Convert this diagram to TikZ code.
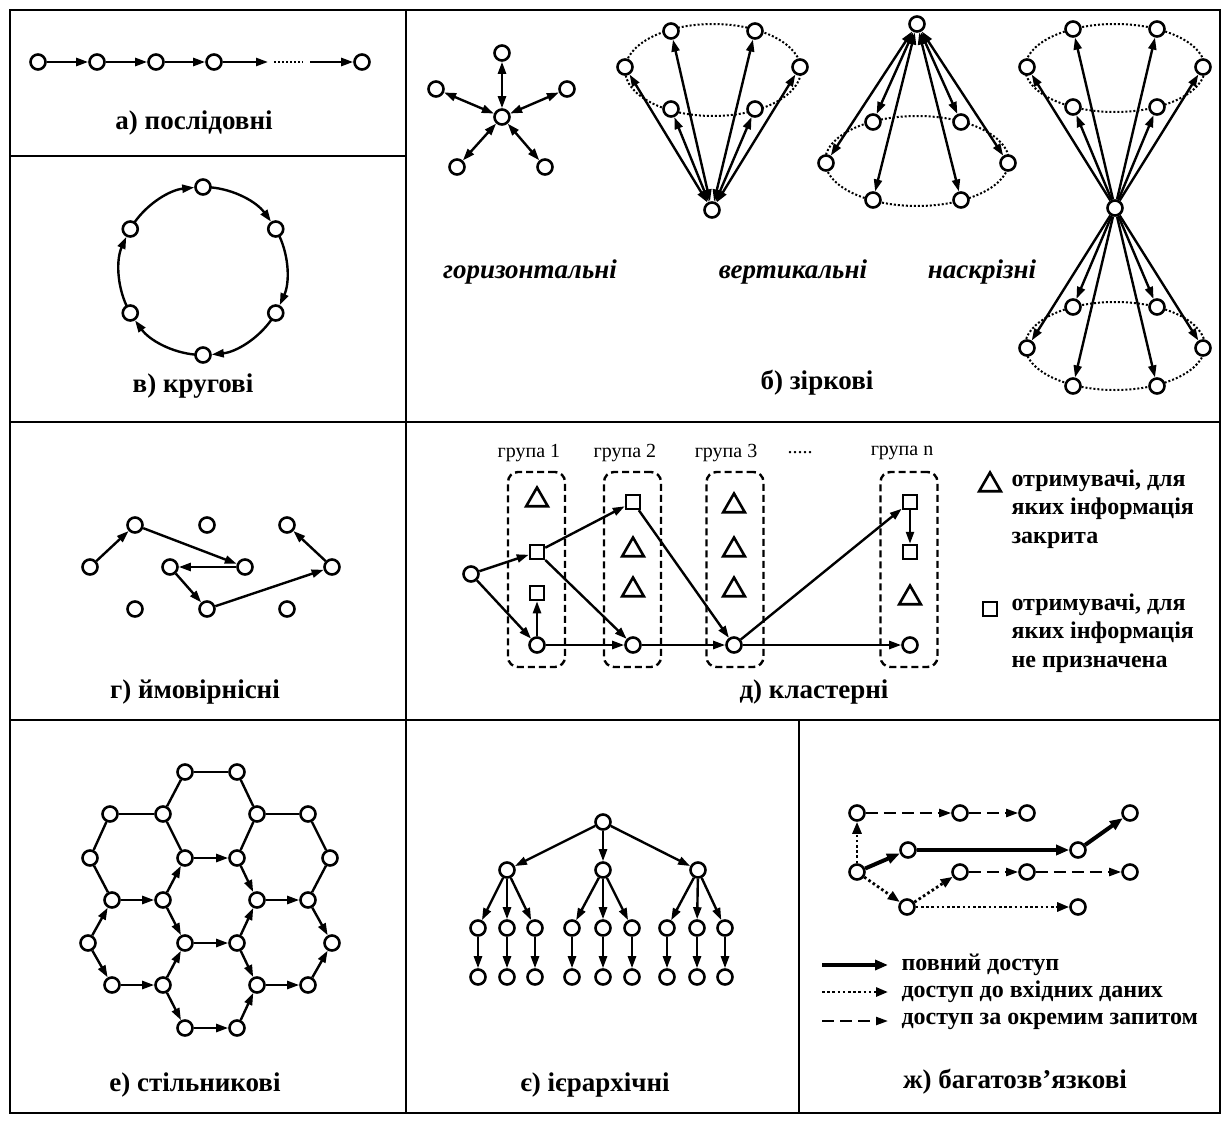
\documentclass[tikz,border=0pt]{standalone}
\usepackage{fontspec}
\setmainfont{Liberation Serif}
\usetikzlibrary{arrows.meta,shapes.geometric}
\begin{document}
\begin{tikzpicture}[x=1pt,y=-1pt,
 >={Triangle[length=12pt,width=8pt]},
 nd/.style={circle,draw,line width=2.6pt,fill=white,minimum size=15pt,inner sep=0pt},
 sq/.style={rectangle,draw,line width=2.5pt,fill=white,minimum size=14pt,inner sep=0pt},
 tri/.style={regular polygon,regular polygon sides=3,draw,line width=2.6pt,minimum size=25pt,inner sep=0pt},
 grp/.style={draw,rounded corners=10pt,line width=2.4pt,dash pattern=on 7pt off 4pt,minimum width=57pt,minimum height=195pt,inner sep=0pt},
 ln/.style={line width=2.4pt},
 ar/.style={ln,->},
 dar/.style={ln,<->},
 frm/.style={line width=2.8pt},
 dot/.style={line width=2pt,dash pattern=on 2pt off 2pt},
 lbl/.style={font=\fontsize{27}{30}\selectfont\bfseries},
 ilbl/.style={font=\fontsize{27}{30}\selectfont\bfseries\itshape},
 glbl/.style={font=\fontsize{20}{22}\selectfont},
 leg/.style={font=\fontsize{24}{28.5}\selectfont\bfseries,align=left},
 full/.style={line width=4pt,-{Triangle[length=13pt,width=10pt]}},
 inp/.style={line width=2.8pt,dash pattern=on 2.6pt off 2.6pt,-{Triangle[length=12pt,width=9pt]}},
 req/.style={line width=2.2pt,dash pattern=on 12pt off 6pt,-{Triangle[length=12pt,width=8pt]}},
 ]
\useasboundingbox (0,0) rectangle (1223,1124);
% frame
\draw[frm] (10,10) rectangle (1220,1113);
\draw[frm] (10,156) -- (406,156);
\draw[frm] (406,10) -- (406,720);
\draw[frm] (10,422) -- (1220,422);
\draw[frm] (10,720) -- (1220,720);
\draw[frm] (406,720) -- (406,1113);
\draw[frm] (799,720) -- (799,1113);

% ---- a) sequential
\node[nd] (a1) at (38,62) {};
\node[nd] (a2) at (97,62) {};
\node[nd] (a3) at (156,62) {};
\node[nd] (a4) at (214,62) {};
\node[nd] (a5) at (362,62) {};
\coordinate (a4e) at (268,62);
\coordinate (dotA) at (274,62);
\coordinate (dotB) at (303,62);
\coordinate (a5s) at (310,62);
\draw[ar] (a1) -- (a2);
\draw[ar] (a2) -- (a3);
\draw[ar] (a3) -- (a4);
\draw[ar] (a4) -- (a4e);
\draw[dot] (dotA) -- (dotB);
\draw[ar] (a5s) -- (a5);
\node[lbl] (la) at (194,123) {а) послідовні};

% ---- в) ring
\coordinate (cc) at (203,271);
\draw[ar] ([shift={(-85:84)}]cc) arc[start angle=-85,end angle=-36,radius=84];
\draw[ar] ([shift={(-25:84)}]cc) arc[start angle=-25,end angle=24,radius=84];
\draw[ar] ([shift={(35:84)}]cc) arc[start angle=35,end angle=84,radius=84];
\draw[ar] ([shift={(95:84)}]cc) arc[start angle=95,end angle=144,radius=84];
\draw[ar] ([shift={(155:84)}]cc) arc[start angle=155,end angle=204,radius=84];
\draw[ar] ([shift={(215:84)}]cc) arc[start angle=215,end angle=264,radius=84];
\node[nd] (c1) at ([shift={(-90:84)}]cc) {};
\node[nd] (c2) at ([shift={(-30:84)}]cc) {};
\node[nd] (c3) at ([shift={(30:84)}]cc) {};
\node[nd] (c4) at ([shift={(90:84)}]cc) {};
\node[nd] (c5) at ([shift={(150:84)}]cc) {};
\node[nd] (c6) at ([shift={(210:84)}]cc) {};
\node[lbl] (lv) at (193,386) {в) кругові};

% ---- б) star: horizontal
\node[nd] (s0) at (502,117) {};
\node[nd] (s1) at (502,53) {};
\node[nd] (s2) at (436,89) {};
\node[nd] (s3) at (567,89) {};
\node[nd] (s4) at (457,167) {};
\node[nd] (s5) at (545,167) {};
\foreach \i in {1,...,5} {\draw[dar] (s0) -- (s\i);}
% vertical cone (apex bottom)
\draw[dot] (713,70) ellipse [x radius=88, y radius=46];
\node[nd] (v0) at (712,210) {};
\node[nd] (v1) at (671,31) {};
\node[nd] (v2) at (755,31) {};
\node[nd] (v3) at (625,67) {};
\node[nd] (v4) at (800,67) {};
\node[nd] (v5) at (671,109) {};
\node[nd] (v6) at (755,109) {};
\foreach \i in {1,...,6} {\draw[dar] (v0) -- (v\i);}
% vertical cone (apex top)
\draw[dot] (917,161) ellipse [x radius=92, y radius=45];
\node[nd] (w0) at (917,24) {};
\node[nd] (w1) at (873,122) {};
\node[nd] (w2) at (961,122) {};
\node[nd] (w3) at (826,163) {};
\node[nd] (w4) at (1008,163) {};
\node[nd] (w5) at (873,200) {};
\node[nd] (w6) at (961,200) {};
\foreach \i in {1,...,6} {\draw[dar] (w0) -- (w\i);}
% through (hourglass)
\draw[dot] (1115,68) ellipse [x radius=90, y radius=44];
\draw[dot] (1115,346) ellipse [x radius=90, y radius=44];
\node[nd] (h0) at (1115,208) {};
\node[nd] (u1) at (1073,29) {};
\node[nd] (u2) at (1157,29) {};
\node[nd] (u3) at (1027,67) {};
\node[nd] (u4) at (1203,67) {};
\node[nd] (u5) at (1073,107) {};
\node[nd] (u6) at (1157,107) {};
\node[nd] (d1) at (1073,307) {};
\node[nd] (d2) at (1157,307) {};
\node[nd] (d3) at (1027,348) {};
\node[nd] (d4) at (1203,348) {};
\node[nd] (d5) at (1073,386) {};
\node[nd] (d6) at (1157,386) {};
\foreach \i in {1,...,6} {\draw[ar] (h0) -- (u\i); \draw[ar] (h0) -- (d\i);}
\node[ilbl] (lh) at (530,272) {горизонтальні};
\node[ilbl] (lvv) at (793,272) {вертикальні};
\node[ilbl] (lt) at (982,272) {наскрізні};
\node[lbl] (lb) at (817,383) {б) зіркові};

% ---- г) probabilistic
\node[nd] (p1) at (90,567) {};
\node[nd] (p2) at (135,525) {};
\node[nd] (p3) at (207,525) {};
\node[nd] (p4) at (287,525) {};
\node[nd] (p5) at (170,567) {};
\node[nd] (p6) at (245,567) {};
\node[nd] (p7) at (332,567) {};
\node[nd] (p8) at (135,609) {};
\node[nd] (p9) at (207,609) {};
\node[nd] (p10) at (287,609) {};
\draw[ar] (p1) -- (p2);
\draw[ar] (p2) -- (p6);
\draw[ar] (p6) -- (p5);
\draw[ar] (p5) -- (p9);
\draw[ar] (p9) -- (p7);
\draw[ar] (p7) -- (p4);
\node[lbl] (lg) at (195,692) {г) ймовірнісні};

% ---- д) cluster
\node[grp] (G1) at (536.5,569.5) {};
\node[grp] (G2) at (632.5,569.5) {};
\node[grp] (G3) at (735,569.5) {};
\node[grp] (Gn) at (909,569.5) {};
\node[glbl] (g1l) at (529,453) {група 1};
\node[glbl] (g2l) at (625,453) {група 2};
\node[glbl] (g3l) at (726,453) {група 3};
\node[glbl] (gdl) at (800,453) {.....};
\node[glbl] (gnl) at (902,453) {група n};
\node[nd] (src) at (471,574) {};
\node[tri] (t11) at (537,500) {};
\node[sq] (q11) at (537,552) {};
\node[sq] (q12) at (537,593) {};
\node[nd] (k1) at (537,645) {};
\node[sq] (q21) at (633,502) {};
\node[tri] (t21) at (633,550) {};
\node[tri] (t22) at (633,590) {};
\node[nd] (k2) at (633,645) {};
\node[tri] (t31) at (734,506) {};
\node[tri] (t32) at (734,550) {};
\node[tri] (t33) at (734,590) {};
\node[nd] (k3) at (734,645) {};
\node[sq] (qn1) at (910,502) {};
\node[sq] (qn2) at (910,552) {};
\node[tri] (tn) at (910,598) {};
\node[nd] (kn) at (910,645) {};
\draw[ar] (src) -- (q11);
\draw[ar] (src) -- (k1);
\draw[ar] (k1) -- (q12);
\draw[ar] (q11) -- (q21);
\draw[ar] (q11) -- (k2);
\draw[ar] (q21) -- (k3);
\draw[ar] (k3) -- (qn1);
\draw[ar] (qn1) -- (qn2);
\draw[ar] (k1) -- (k2);
\draw[ar] (k2) -- (k3);
\draw[ar] (k3) -- (kn);
\node[tri] (lt1) at (990,485) {};
\node[leg,anchor=north west] (lt1t) at (1008,466) {отримувачі, для\\яких інформація\\закрита};
\node[sq] (lq1) at (990,609) {};
\node[leg,anchor=north west] (lq1t) at (1008,590) {отримувачі, для\\яких інформація\\не призначена};
\node[lbl] (ld) at (814,692) {д) кластерні};

% ---- е) honeycomb
\node[nd] (h01) at (185,772) {};
\node[nd] (h02) at (237,772) {};
\node[nd] (h10) at (110,814) {};
\node[nd] (h11) at (163,814) {};
\node[nd] (h12) at (257,814) {};
\node[nd] (h13) at (308,814) {};
\node[nd] (h20) at (90,858) {};
\node[nd] (h21) at (185,858) {};
\node[nd] (h22) at (237,858) {};
\node[nd] (h23) at (330,858) {};
\node[nd] (h30) at (112,900) {};
\node[nd] (h31) at (163,900) {};
\node[nd] (h32) at (257,900) {};
\node[nd] (h33) at (308,900) {};
\node[nd] (h40) at (88,943) {};
\node[nd] (h41) at (185,943) {};
\node[nd] (h42) at (237,943) {};
\node[nd] (h43) at (332,943) {};
\node[nd] (h50) at (112,985) {};
\node[nd] (h51) at (163,985) {};
\node[nd] (h52) at (257,985) {};
\node[nd] (h53) at (308,985) {};
\node[nd] (h61) at (185,1028) {};
\node[nd] (h62) at (237,1028) {};
% plain edges
\draw[ln] (h01) -- (h02);
\draw[ln] (h02) -- (h12);
\draw[ln] (h12) -- (h22);
\draw[ln] (h11) -- (h21);
\draw[ln] (h11) -- (h01);
\draw[ln] (h10) -- (h11);
\draw[ln] (h20) -- (h10);
\draw[ln] (h30) -- (h20);
\draw[ln] (h12) -- (h13);
\draw[ln] (h13) -- (h23);
\draw[ln] (h23) -- (h33);
% arrow edges
\draw[ar] (h21) -- (h22);
\draw[ar] (h31) -- (h21);
\draw[ar] (h22) -- (h32);
\draw[ar] (h30) -- (h31);
\draw[ar] (h32) -- (h33);
\draw[ar] (h40) -- (h30);
\draw[ar] (h31) -- (h41);
\draw[ar] (h42) -- (h32);
\draw[ar] (h33) -- (h43);
\draw[ar] (h41) -- (h42);
\draw[ar] (h40) -- (h50);
\draw[ar] (h51) -- (h41);
\draw[ar] (h42) -- (h52);
\draw[ar] (h53) -- (h43);
\draw[ar] (h50) -- (h51);
\draw[ar] (h52) -- (h53);
\draw[ar] (h51) -- (h61);
\draw[ar] (h62) -- (h52);
\draw[ar] (h61) -- (h62);
\node[lbl] (le) at (195,1085) {е) стільникові};

% ---- є) hierarchical
\node[nd] (r0) at (603,822) {};
\node[nd] (m1) at (507,870) {};
\node[nd] (m2) at (603,870) {};
\node[nd] (m3) at (698,870) {};
\foreach \i/\x in {1/478,2/507,3/535,4/572,5/603,6/632,7/667,8/697,9/725} {
  \node[nd] (l\i) at (\x,928) {};
  \node[nd] (b\i) at (\x,977) {};
  \draw[ar] (l\i) -- (b\i);
}
\draw[ar] (r0) -- (m1);
\draw[ar] (r0) -- (m2);
\draw[ar] (r0) -- (m3);
\draw[ar] (m1) -- (l1);
\draw[ar] (m1) -- (l2);
\draw[ar] (m1) -- (l3);
\draw[ar] (m2) -- (l4);
\draw[ar] (m2) -- (l5);
\draw[ar] (m2) -- (l6);
\draw[ar] (m3) -- (l7);
\draw[ar] (m3) -- (l8);
\draw[ar] (m3) -- (l9);
\node[lbl] (lie) at (595,1085) {є) ієрархічні};

% ---- ж) multi-link
\node[nd] (n1) at (857,813) {};
\node[nd] (n2) at (960,813) {};
\node[nd] (n3) at (1027,813) {};
\node[nd] (n4) at (1130,813) {};
\node[nd] (n5) at (908,850) {};
\node[nd] (n6) at (1078,850) {};
\node[nd] (n7) at (857,872) {};
\node[nd] (n8) at (960,872) {};
\node[nd] (n9) at (1027,872) {};
\node[nd] (n10) at (1130,872) {};
\node[nd] (n11) at (907,907) {};
\node[nd] (n12) at (1078,907) {};
\draw[inp] (n7) -- (n1);
\draw[req] (n1) -- (n2);
\draw[req] (n2) -- (n3);
\draw[full] (n7) -- (n5);
\draw[full] (n5) -- (n6);
\draw[full] (n6) -- (n4);
\draw[inp] (n7) -- (n11);
\draw[inp] (n11) -- (n8);
\draw[req] (n8) -- (n9);
\draw[req] (n9) -- (n10);
\draw[inp] (n11) -- (n12);
\coordinate (lf1) at (822,965); \coordinate (lf2) at (888,965);
\coordinate (li1) at (822,992); \coordinate (li2) at (888,992);
\coordinate (lr1) at (822,1021); \coordinate (lr2) at (888,1021);
\draw[full] (lf1) -- (lf2);
\draw[inp] (li1) -- (li2);
\draw[req] (lr1) -- (lr2);
\node[leg,anchor=west] (lft) at (898,965) {повний доступ};
\node[leg,anchor=west] (lit) at (898,992) {доступ до вхідних даних};
\node[leg,anchor=west] (lrt) at (898,1021) {доступ за окремим запитом};
\node[lbl] (lzh) at (1015,1082) {ж) багатозв’язкові};
\end{tikzpicture}
\end{document}
